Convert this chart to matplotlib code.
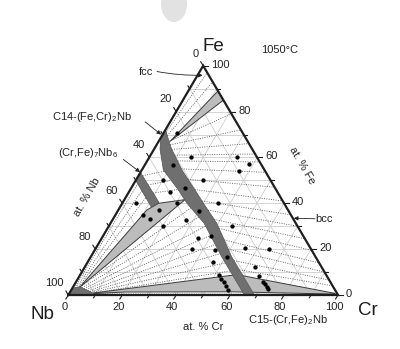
import numpy as np
import matplotlib
matplotlib.use("Agg")
import matplotlib.pyplot as plt
from matplotlib.patches import Polygon, Ellipse

plt.rcParams["font.family"] = ["Liberation Sans", "DejaVu Sans"]
plt.rcParams["mathtext.fontset"] = "custom"
plt.rcParams["mathtext.rm"] = "Liberation Sans"
plt.rcParams["mathtext.it"] = "Liberation Sans:italic"

# ---------------- data (at.% Cr, at.% Fe) ----------------
c14_left_cr = [0, 2.2, 8.0, 17.7, 24.0, 34.7, 48.5, 64.6, 65.5]
c14_left_fe = [68.5, 63.6, 54.5, 46.0, 40.0, 31.3, 16.7, 0.7, 0]
c14_right_cr = [0, 6.5, 14.9, 30.1, 39.4, 52.2, 68.3, 69.0]
c14_right_fe = [72.0, 63.6, 54.5, 40.0, 31.3, 16.7, 0.7, 0]

mu_cr = [0, 11.5, 13.5, 0]
mu_fe = [50.0, 38.5, 40.3, 53.5]

nbss_cr = [0, 0, 2.5, 9.2, 9.5]
nbss_fe = [0, 3.0, 3.6, 0.6, 0]

wedge_cr = [2.5, 10.6, 13.5, 22.5]
wedge_fe = [3.3, 37.1, 40.0, 41.6]

sliver_cr = [4.2, 11.0, 15.0]
sliver_fe = [67.0, 89.0, 85.0]

bottom_cr = [9.0, 55.7, 59.5, 98.6, 98.6, 60.0, 20.0, 9.0]
bottom_fe = [0.9, 8.5, 8.6, 0.7, 0.4, 1.4, 1.3, 0.6]

# tie lines C14 -> bcc (Fe-Cr edge)
rf_fe_c14 = [67, 65.5, 63.5, 61, 58.5, 55, 50.5, 46, 41, 37, 33, 29, 24, 20, 15, 11]
rf_fe_bcc = [79, 72, 66, 61.5, 58, 53.5, 47, 41, 35, 30, 24.5, 19.5, 14, 10, 6.5, 4]
# tie lines C14 -> fcc
fc_fe_c14 = [69.5, 71.0]
fc_fe_fcc = [93.0, 97.0]
# tie lines Nb(ss) -> C14
lf_cr0 = [2.6, 3.5, 4.5, 5.5, 6.5, 7.3, 8.0, 8.7]
lf_fe0 = [3.5, 3.15, 2.7, 2.26, 1.8, 1.45, 1.14, 0.82]
lf_fe_c14 = [38, 34, 30, 26, 22, 18, 14, 10.5]
# tie lines Nb(ss) -> mu
ul_cr0 = [0.8, 1.5, 2.1]
ul_fe0 = [3.9, 3.8, 3.7]
ul_cr_mu = [1.5, 4.5, 7.5]
ul_fe_mu = [48.5, 45.5, 42.5]
# tie lines mu -> C14
mc_cr_mu = [1.5, 5.6, 9.2]
mc_fe_mu = [52.0, 48.0, 44.5]
mc_fe_c14 = [54.0, 50.0, 46.0]
# tie lines inside bottom three-phase field
bt_cr1 = [9.0, 9.2, 60.5, 62.0]
bt_fe1 = [0.5, 0.7, 7.0, 4.0]
bt_cr2 = [98.5, 50.0, 98.8, 98.8]
bt_fe2 = [0.3, 5.5, 0.5, 0.4]

dots_cr = [4.9, 15.2, 32.3, 10.4, 38.4, 36.4, 10.1, 25.0, 20.0, 15.2, 35.5, 5.0, 20.0,
           14.9, 30.2, 10.4, 13.8, 27.3, 45.5, 20.2, 35.8, 40.1, 35.9, 55.3, 64.6, 44.6,
           50.5, 46.5, 63.2, 66.7, 51.5, 53.2, 54.8, 56.5, 58.2, 69.4, 70.6, 71.8, 72.9]
dots_fe = [70.5, 60.3, 60.3, 56.7, 57.0, 54.1, 50.2, 50.2, 46.5, 45.0, 40.3, 40.3, 40.3,
           37.1, 36.8, 34.9, 33.0, 32.7, 30.1, 30.1, 24.7, 25.7, 19.9, 20.4, 19.9, 19.6,
           16.4, 14.5, 12.1, 8.3, 8.7, 7.1, 5.5, 3.8, 2.2, 5.8, 4.7, 3.6, 2.5]

ticks_major = [0, 20, 40, 60, 80, 100]
ticks_minor = [10, 30, 50, 70, 90]

S3 = np.sqrt(3) / 2


def tern(cr, fe):
    cr = np.asarray(cr, float)
    fe = np.asarray(fe, float)
    return cr + fe / 2, fe * S3


fig = plt.figure(figsize=(4, 3.49), dpi=100)

# faint blob at the top of the scan
bg = fig.add_axes([0, 0, 1, 1])
bg.set_xlim(0, 400)
bg.set_ylim(349, 0)
bg.axis("off")
bg.add_patch(Ellipse((174, 4), 26, 36, color="#e2e2e2", lw=0))

ax = fig.add_axes([0.1708, 0.1547, 0.6742, 0.657])
ax.set_xlim(0, 100)
ax.set_ylim(0, 100 * S3)
ax.axis("off")

# grid
for v in range(10, 100, 10):
    for a, b in [((0, v), (100 - v, v)), ((v, 0), (v, 100 - v)), ((100 - v, 0), (0, 100 - v))]:
        x, y = tern([a[0], b[0]], [a[1], b[1]])
        ax.plot(x, y, color="#cdcdcd", lw=0.6, zorder=1)

dot_style = dict(color="#5a5a5a", lw=0.6, ls=(0, (1.2, 1.6)), zorder=2)


def tie(cr1, fe1, cr2, fe2):
    x, y = tern([cr1, cr2], [fe1, fe2])
    ax.plot(x, y, **dot_style)


for f1, f2 in zip(rf_fe_c14, rf_fe_bcc):
    c1 = np.interp(f1, c14_right_fe[::-1], c14_right_cr[::-1])
    tie(c1, f1, 100 - f2, f2)
for f1, f2 in zip(fc_fe_c14, fc_fe_fcc):
    c1 = np.interp(f1, c14_right_fe[::-1], c14_right_cr[::-1])
    tie(c1, f1, 100 - f2, f2)
for c0, f0, f1 in zip(lf_cr0, lf_fe0, lf_fe_c14):
    c1 = np.interp(f1, c14_left_fe[::-1], c14_left_cr[::-1])
    tie(c0, f0, c1, f1)
for c0, f0, c1, f1 in zip(ul_cr0, ul_fe0, ul_cr_mu, ul_fe_mu):
    tie(c0, f0, c1, f1)
for c0, f0, f1 in zip(mc_cr_mu, mc_fe_mu, mc_fe_c14):
    c1 = np.interp(f1, c14_left_fe[::-1], c14_left_cr[::-1])
    tie(c0, f0, c1, f1)
for c0, f0, c1, f1 in zip(bt_cr1, bt_fe1, bt_cr2, bt_fe2):
    tie(c0, f0, c1, f1)


def region(cr, fe, face, edge, lw, z):
    x, y = tern(cr, fe)
    ax.add_patch(Polygon(np.column_stack([x, y]), closed=True, facecolor=face,
                         edgecolor=edge, lw=lw, zorder=z))


region(bottom_cr, bottom_fe, "#bcbcbc", "#3c3c3c", 0.7, 3)
region(wedge_cr, wedge_fe, "#bcbcbc", "#3c3c3c", 0.7, 3)
region(sliver_cr, sliver_fe, "#bcbcbc", "#3c3c3c", 0.7, 3)
region(c14_left_cr + c14_right_cr[::-1], c14_left_fe + c14_right_fe[::-1],
       "#6f6f6f", "#555555", 0.5, 4)
region(mu_cr, mu_fe, "#6f6f6f", "#555555", 0.5, 4)
region(nbss_cr, nbss_fe, "#6f6f6f", "#555555", 0.5, 4)

dx, dy = tern(dots_cr, dots_fe)
ax.plot(dx, dy, "o", color="k", ms=2.1, zorder=5)

# triangle
tx, ty = tern([0, 100, 0, 0], [0, 0, 100, 0])
ax.plot(tx, ty, color="#1e1e1e", lw=1.6, zorder=6, clip_on=False, solid_joinstyle="miter")

# ticks and tick labels
tk = dict(color="#1e1e1e", lw=0.8, clip_on=False, zorder=6)
for v in ticks_major + ticks_minor:
    s = 1.0 if v in ticks_major else 0.7
    ax.plot([v, v - 0.9 * s], [0, -1.5 * s], **tk)          # bottom (Cr)
    x, y = tern(0, 100 - v)
    ax.plot([x, x - 0.9 * s], [y, y + 1.5 * s], **tk)      # left (Nb)
    x, y = tern(100 - v, v)
    ax.plot([x, x + 1.8 * s], [y, y], **tk)                # right (Fe)
for v in ticks_major:
    ax.text(v - 1.5, -4.6, str(v), ha="center", va="center", fontsize=8, color="#222")
    x, y = tern(0, 100 - v)
    ax.text(x - 1.6, y + 4.6, str(v), ha="right", va="center", fontsize=8, color="#222")
    x, y = tern(100 - v, v)
    ax.text(x + 3.0, y + 0.4, str(v), ha="left", va="center", fontsize=8, color="#222")

# corner labels and axis titles
ax.text(49.6, 94.0, "Fe", fontsize=13.5, ha="left", va="center", color="#1e1e1e")
ax.text(-9.5, -7.3, "Nb", fontsize=13.5, ha="center", va="center", color="#1e1e1e")
ax.text(110.9, -6.0, "Cr", fontsize=13.5, ha="center", va="center", color="#1e1e1e")
ax.text(78.5, 92.5, "1050°C", fontsize=8, ha="center", va="center", color="#222")
ax.text(50.1, -12.0, "at. % Cr", fontsize=8, ha="center", va="center", color="#222")
ax.text(6.8, 37.1, "at. % Nb", fontsize=8, ha="center", va="center", rotation=60, color="#222")
ax.text(86.5, 49.1, "at. % Fe", fontsize=8, ha="center", va="center", rotation=-60, color="#222")

# phase labels with arrows
ax.text(8.7, 67.3, "C14-(Fe,Cr)$_2$Nb", fontsize=8, ha="center", va="center", color="#222")
ax.text(7.4, 53.5, "(Cr,Fe)$_7$Nb$_6$", fontsize=8, ha="center", va="center", color="#222")
ax.text(28.7, 84.3, "fcc", fontsize=8, ha="center", va="center", color="#222")
ax.text(94.8, 28.6, "bcc", fontsize=8, ha="center", va="center", color="#222")
ax.text(81.3, -9.6, "C15-(Cr,Fe)$_2$Nb", fontsize=8, ha="center", va="center", color="#222")

arr = dict(arrowstyle="-|>", lw=0.6, color="#222", mutation_scale=6, shrinkA=0, shrinkB=0)
ax.annotate("", xy=(34.4, 60.6), xytext=(28.5, 65.4), arrowprops=arr, zorder=7)
ax.annotate("", xy=(26.6, 46.4), xytext=(20.4, 51.2), arrowprops=arr, zorder=7)
ax.annotate("", xy=(49.8, 83.0), xytext=(32.9, 84.4),
            arrowprops=dict(arr, connectionstyle="arc3,rad=0.05"), zorder=7)
ax.annotate("", xy=(83.6, 29.0), xytext=(91.5, 28.8), arrowprops=arr, zorder=7)
ax.annotate("", xy=(67.6, -0.4), xytext=(69.9, -6.4), arrowprops=arr, zorder=7)

fig.savefig("out.png", dpi=100, facecolor="white")
